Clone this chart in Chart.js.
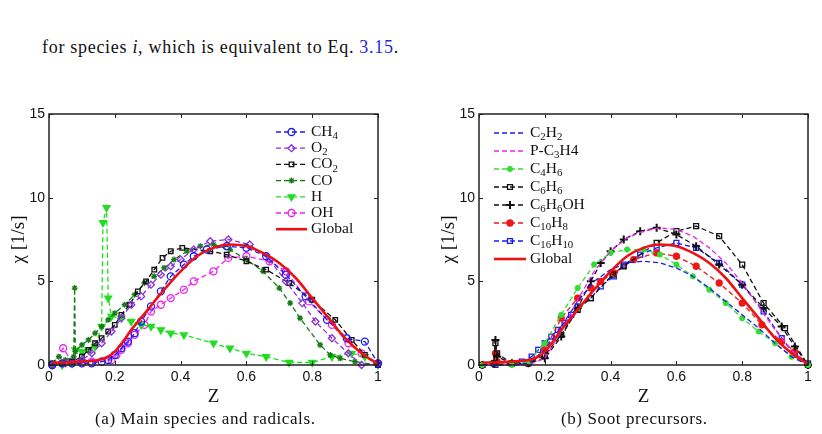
<!DOCTYPE html>
<html>
<head>
<meta charset="utf-8">
<script src="https://cdn.jsdelivr.net/npm/chart.js@4/dist/chart.umd.min.js"></script>
<style>
  html, body { margin: 0; padding: 0; background: #fff; }
  body { width: 822px; height: 434px; position: relative; overflow: hidden; font-family: "Liberation Serif", serif; }
  .intro { position: absolute; left: 42px; top: 37px; font-size: 18px; letter-spacing: 0.7px; color: #111; white-space: nowrap; }
  .intro .ref { color: #2626e0; }
  .cap { position: absolute; top: 409px; font-size: 17px; letter-spacing: 0.6px; color: #111; white-space: nowrap; }
  .box { position: absolute; top: 100px; height: 310px; }
</style>
</head>
<body>
<div class="intro">for species <i>i</i>, which is equivalent to Eq. <span class="ref">3.15</span>.</div>
<div class="box" style="left:0;width:411px"><canvas id="chartA"></canvas></div>
<div class="box" style="left:430px;width:392px"><canvas id="chartB"></canvas></div>
<div class="cap" style="left:95px">(a) Main species and radicals.</div>
<div class="cap" style="left:561px">(b) Soot precursors.</div>
<script>
// tick labels
const zTicks   = [0, 0.2, 0.4, 0.6, 0.8, 1];
const chiTicks = [0, 5, 10, 15];

// global scalar dissipation rate (same in both panels)
const zGlobal   = [0.01, 0.05, 0.1, 0.15, 0.175, 0.2, 0.225, 0.25, 0.275, 0.3, 0.35, 0.4, 0.45, 0.5, 0.55, 0.6, 0.65, 0.7, 0.75, 0.8, 0.85, 0.9, 0.95, 1.0];
const chiGlobal = [0.15, 0.15, 0.2, 0.3, 0.45, 0.8, 1.4, 2.1, 2.7, 3.3, 4.5, 5.6, 6.5, 7.0, 7.2, 7.1, 6.7, 6.1, 5.2, 4.0, 2.8, 1.6, 0.7, 0.05];

// (a) main species and radicals
const zCH4   = [0.01, 0.04, 0.07, 0.1, 0.13, 0.16, 0.18, 0.2, 0.22, 0.24, 0.26, 0.28, 0.31, 0.34, 0.37, 0.41, 0.44, 0.48, 0.54, 0.6, 0.66, 0.72, 0.78, 0.845, 0.905, 0.96, 1.0];
const chiCH4 = [0.0, 0.1, 0.1, 0.1, 0.1, 0.2, 0.3, 0.6, 1.0, 1.4, 1.9, 2.6, 3.5, 4.4, 5.3, 6.0, 6.5, 6.9, 7.1, 7.0, 6.5, 5.4, 4.1, 2.7, 1.6, 1.4, 0.1];

const zO2   = [0.01, 0.05, 0.1, 0.13, 0.16, 0.19, 0.22, 0.25, 0.28, 0.31, 0.34, 0.37, 0.4, 0.44, 0.49, 0.545, 0.61, 0.67, 0.72, 0.77, 0.81, 0.86, 0.91, 0.95, 1.0];
const chiO2 = [0.0, 0.1, 0.3, 0.7, 1.3, 2.0, 2.8, 3.6, 4.1, 4.8, 5.4, 5.9, 6.3, 6.9, 7.4, 7.5, 7.2, 6.3, 5.0, 3.7, 2.6, 1.6, 0.7, 0.0, 0.1];

const zCO2   = [0.01, 0.04, 0.07, 0.1, 0.12, 0.14, 0.16, 0.18, 0.2, 0.22, 0.245, 0.27, 0.295, 0.32, 0.345, 0.37, 0.405, 0.49, 0.54, 0.6, 0.66, 0.73, 0.8, 0.87, 0.92, 0.96, 1.0];
const chiCO2 = [0.1, 0.1, 0.2, 0.5, 0.9, 1.3, 1.6, 2.0, 2.4, 3.0, 3.6, 4.4, 5.0, 5.7, 6.4, 6.8, 7.0, 6.8, 6.6, 6.2, 5.7, 4.9, 3.9, 2.7, 1.5, 0.6, 0.0];

const zCO   = [0.01, 0.03, 0.05, 0.075, 0.078, 0.08, 0.1, 0.12, 0.14, 0.16, 0.18, 0.2, 0.23, 0.26, 0.29, 0.32, 0.35, 0.38, 0.42, 0.46, 0.5, 0.55, 0.6, 0.65, 0.7, 0.733, 0.763, 0.824, 0.855, 0.885, 0.93, 1.0];
const chiCO = [0.1, 0.5, 0.3, 0.5, 4.6, 0.8, 1.2, 1.5, 1.9, 2.3, 2.7, 3.1, 3.6, 4.2, 4.9, 5.3, 5.8, 6.3, 6.8, 7.1, 7.2, 6.9, 6.3, 5.6, 4.6, 3.7, 2.8, 1.2, 0.6, 0.4, 0.2, 0.0];

const zH   = [0.01, 0.04, 0.07, 0.08, 0.1, 0.12, 0.14, 0.16, 0.164, 0.175, 0.18, 0.19, 0.22, 0.25, 0.28, 0.31, 0.34, 0.37, 0.41, 0.5, 0.55, 0.6, 0.66, 0.73, 0.8, 0.86, 0.92, 0.96, 1.0];
const chiH = [0.0, 0.0, 0.1, 0.9, 0.8, 0.9, 1.1, 2.3, 8.5, 9.4, 4.0, 2.9, 2.8, 2.6, 2.4, 2.3, 2.1, 1.9, 1.8, 1.3, 1.0, 0.7, 0.5, 0.15, 0.15, 0.5, 0.7, 0.5, 0.0];

const zOH   = [0.01, 0.043, 0.07, 0.1, 0.13, 0.16, 0.19, 0.205, 0.22, 0.24, 0.26, 0.29, 0.31, 0.34, 0.37, 0.41, 0.44, 0.5, 0.545, 0.6, 0.67, 0.72, 0.79, 0.86, 0.91, 0.95, 1.0];
const chiOH = [0.0, 1.0, 0.2, 0.2, 0.2, 0.2, 0.3, 0.6, 0.9, 1.3, 1.8, 2.4, 3.2, 3.6, 4.0, 4.5, 5.0, 5.6, 6.4, 6.5, 6.2, 5.6, 3.8, 2.4, 1.3, 0.7, 0.1];

// (b) soot precursors
const zGrid = [0.01, 0.1, 0.15, 0.2, 0.25, 0.3, 0.35, 0.4, 0.45, 0.5, 0.55, 0.6, 0.65, 0.7, 0.75, 0.8, 0.85, 0.9, 0.95, 1.0];
const chiC2H2  = [0.0, 0.0, 0.1, 0.9, 2.3, 3.8, 5.0, 5.7, 6.1, 6.2, 6.1, 5.8, 5.3, 4.6, 3.8, 3.0, 2.2, 1.3, 0.5, 0.0];
const chiPC3H4 = [0.0, 0.0, 0.0, 0.4, 2.0, 3.9, 5.6, 6.8, 7.6, 8.0, 8.2, 8.1, 7.7, 7.0, 6.1, 4.9, 3.5, 2.1, 0.9, 0.0];
const chiC4H6  = [0.0, 0.0, 0.2, 1.3, 3.0, 4.6, 6.0, 6.7, 6.9, 6.9, 6.6, 6.0, 5.3, 4.5, 3.7, 2.8, 2.0, 1.3, 0.5, 0.0];

const zC6H6   = [0.01, 0.045, 0.05, 0.055, 0.1, 0.15, 0.2, 0.25, 0.3, 0.34, 0.406, 0.44, 0.54, 0.6, 0.66, 0.73, 0.8, 0.865, 0.93, 1.0];
const chiC6H6 = [0.0, 0.1, 1.3, 0.7, 0.1, 0.1, 0.6, 1.8, 3.3, 4.0, 5.4, 5.9, 7.3, 8.0, 8.3, 7.7, 6.0, 3.7, 2.2, 0.0];

const zC6H6OH   = [0.01, 0.045, 0.05, 0.055, 0.1, 0.15, 0.2, 0.25, 0.3, 0.34, 0.37, 0.4, 0.44, 0.49, 0.54, 0.6, 0.66, 0.73, 0.8, 0.865, 0.92, 0.96, 1.0];
const chiC6H6OH = [0.0, 0.1, 1.5, 0.5, 0.1, 0.1, 0.4, 1.7, 3.4, 5.0, 6.1, 6.8, 7.5, 8.0, 8.2, 7.8, 7.1, 6.0, 4.8, 3.4, 2.3, 1.1, 0.0];

const zC10H8   = [0.01, 0.045, 0.05, 0.055, 0.1, 0.15, 0.2, 0.25, 0.3, 0.34, 0.37, 0.41, 0.47, 0.54, 0.6, 0.66, 0.73, 0.8, 0.86, 0.92, 0.96, 1.0];
const chiC10H8 = [0.0, 0.1, 0.7, 0.2, 0.1, 0.1, 0.9, 2.8, 4.0, 4.6, 5.0, 5.5, 6.3, 6.7, 6.5, 5.9, 4.9, 3.7, 2.4, 1.4, 0.8, 0.0];

const zC16H10   = [0.01, 0.05, 0.1, 0.13, 0.16, 0.18, 0.2, 0.22, 0.24, 0.26, 0.28, 0.3, 0.34, 0.37, 0.41, 0.44, 0.49, 0.54, 0.6, 0.66, 0.73, 0.8, 0.865, 0.92, 0.96, 1.0];
const chiC16H10 = [0.0, 0.0, 0.1, 0.2, 0.5, 0.9, 1.3, 1.7, 2.1, 2.5, 3.0, 3.5, 4.0, 4.7, 5.3, 6.0, 6.6, 7.0, 7.3, 7.0, 6.1, 4.8, 3.2, 1.6, 0.6, 0.1];

const pts = (zs, ys) => zs.map((z, i) => ({ x: z, y: ys[i] }));
const DASH = [5, 3];

function series(label, zs, ys, color, marker, extra) {
  return Object.assign({
    label,
    data: pts(zs, ys),
    showLine: true,
    borderColor: color,
    borderWidth: 1.3,
    borderDash: DASH,
    pointStyle: marker || false,
    pointRadius: marker ? 3.5 : 0,
    pointBorderColor: color,
    pointBackgroundColor: 'rgba(0,0,0,0)',
    pointBorderWidth: 1.3,
    clip: 8,
  }, extra || {});
}

function globalSeries() {
  return {
    label: 'Global',
    data: pts(zGlobal, chiGlobal),
    showLine: true,
    borderColor: '#ee1111',
    borderWidth: 2.6,
    pointRadius: 0,
    cubicInterpolationMode: 'monotone',
    order: -1,
  };
}

// draw label with _{...} subscripts
function drawRich(ctx, s, x, y, size) {
  s.split(/(_\{[^}]*\})/).forEach(p => {
    if (!p) return;
    if (p.startsWith('_{')) {
      const t = p.slice(2, -1);
      ctx.font = (size * 0.7) + 'px "Liberation Serif"';
      ctx.fillText(t, x, y + size * 0.28);
      x += ctx.measureText(t).width;
    } else {
      ctx.font = size + 'px "Liberation Serif"';
      ctx.fillText(p, x, y);
      x += ctx.measureText(p).width;
    }
  });
}

const boxPlugin = {
  id: 'mbox',
  afterDatasetsDraw(chart) {
    const { ctx, chartArea: a, scales: { x, y } } = chart;
    ctx.save();
    ctx.strokeStyle = '#222';
    ctx.lineWidth = 1;
    ctx.beginPath();
    x.ticks.forEach(t => {
      const px = Math.round(x.getPixelForValue(t.value)) + 0.5;
      ctx.moveTo(px, a.bottom); ctx.lineTo(px, a.bottom - 4);
      ctx.moveTo(px, a.top); ctx.lineTo(px, a.top + 4);
    });
    y.ticks.forEach(t => {
      const py = Math.round(y.getPixelForValue(t.value)) + 0.5;
      ctx.moveTo(a.left, py); ctx.lineTo(a.left + 4, py);
      ctx.moveTo(a.right, py); ctx.lineTo(a.right - 4, py);
    });
    ctx.stroke();
    ctx.lineWidth = 1.5;
    ctx.strokeRect(a.left, a.top, a.width, a.height);
    ctx.restore();
  }
};

const legendPlugin = {
  id: 'mlegend',
  afterDraw(chart, args, o) {
    const { ctx, chartArea: a } = chart;
    const x0 = o.right ? a.right - o.dx : a.left + o.dx;
    ctx.save();
    ctx.textBaseline = 'middle';
    chart.data.datasets.forEach((ds, i) => {
      const y = a.top + o.dy + i * o.row;
      ctx.strokeStyle = ds.borderColor;
      ctx.lineWidth = ds.borderWidth;
      ctx.setLineDash(ds.borderDash || []);
      ctx.beginPath();
      ctx.moveTo(x0, y); ctx.lineTo(x0 + o.len, y);
      ctx.stroke();
      ctx.setLineDash([]);
      if (ds.pointStyle) {
        ctx.fillStyle = ds.pointBackgroundColor;
        ctx.strokeStyle = ds.pointBorderColor;
        ctx.lineWidth = ds.pointBorderWidth;
        Chart.helpers.drawPoint(ctx, {
          pointStyle: ds.pointStyle, radius: ds.pointRadius,
          rotation: ds.pointRotation || 0, borderWidth: ds.pointBorderWidth
        }, x0 + o.len / 2, y);
      }
      ctx.fillStyle = '#111';
      drawRich(ctx, o.labels[i], x0 + o.len + 4, y, 15.5);
    });
    ctx.restore();
  }
};

function makeOptions(legendOpts, padRight) {
  return {
    responsive: false,
    animation: false,
    layout: { padding: { left: 0, top: 14, right: padRight, bottom: 0 } },
    plugins: {
      legend: { display: false },
      tooltip: { enabled: false },
      mlegend: legendOpts,
    },
    scales: {
      x: {
        type: 'linear', min: 0, max: 1,
        afterBuildTicks: s => { s.ticks = zTicks.map(v => ({ value: v })); },
        afterFit: s => { s.height = 45; },
        grid: { display: false, drawTicks: false },
        border: { display: false },
        ticks: { color: '#111', padding: 4, font: { family: 'Liberation Sans', size: 14 },
                 callback: v => String(+v.toFixed(1)) },
        title: { display: true, text: 'Z', color: '#111', padding: { top: 0, bottom: 2 },
                 font: { family: 'Liberation Serif', size: 19 } },
      },
      y: {
        type: 'linear', min: 0, max: 15,
        afterBuildTicks: s => { s.ticks = chiTicks.map(v => ({ value: v })); },
        afterFit: s => { s.width = 49; },
        grid: { display: false, drawTicks: false },
        border: { display: false },
        ticks: { color: '#111', padding: 4, font: { family: 'Liberation Sans', size: 14 },
                 callback: v => String(v) },
        title: { display: true, text: 'χ [1/s]', color: '#111', padding: { top: 8, bottom: 0 },
                 font: { family: 'Liberation Serif', size: 19 } },
      },
    },
  };
}

const canvasA = document.getElementById('chartA');
canvasA.width = 411; canvasA.height = 310;
new Chart(canvasA, {
  type: 'scatter',
  data: {
    datasets: [
      series('CH4', zCH4, chiCH4, '#1c1cf0', 'circle'),
      series('O2', zO2, chiO2, '#8a33d6', 'rectRot'),
      series('CO2', zCO2, chiCO2, '#111111', 'rect', { pointRadius: 3.2 }),
      series('CO', zCO, chiCO, '#167a16', 'star', { pointRadius: 3 }),
      series('H', zH, chiH, '#22dd22', 'triangle', { pointRotation: 180, pointBackgroundColor: '#22dd22', pointRadius: 4 }),
      series('OH', zOH, chiOH, '#ee22ee', 'circle'),
      globalSeries(),
    ],
  },
  options: makeOptions({
    right: true, dx: 102, dy: 18, row: 16.2, len: 31,
    labels: ['CH_{4}', 'O_{2}', 'CO_{2}', 'CO', 'H', 'OH', 'Global'],
  }, 33),
  plugins: [boxPlugin, legendPlugin],
});

const canvasB = document.getElementById('chartB');
canvasB.width = 392; canvasB.height = 310;
new Chart(canvasB, {
  type: 'scatter',
  data: {
    datasets: [
      series('C2H2', zGrid, chiC2H2, '#1c1cf0', false),
      series('P-C3H4', zGrid, chiPC3H4, '#ee22ee', false),
      series('C4H6', zGrid, chiC4H6, '#33dd33', 'star', { pointRadius: 3, pointBorderWidth: 2 }),
      series('C6H6', zC6H6, chiC6H6, '#111111', 'rect', { pointRadius: 3.5 }),
      series('C6H6OH', zC6H6OH, chiC6H6OH, '#111111', 'cross', { pointRadius: 4, pointBorderWidth: 2 }),
      series('C10H8', zC10H8, chiC10H8, '#ee1818', 'circle', { pointBackgroundColor: '#ee1818', pointRadius: 3 }),
      series('C16H10', zC16H10, chiC16H10, '#1c1cf0', 'rect', { pointRadius: 3.5 }),
      globalSeries(),
    ],
  },
  options: makeOptions({
    right: false, dx: 15, dy: 19, row: 18, len: 32,
    labels: ['C_{2}H_{2}', 'P-C_{3}H4', 'C_{4}H_{6}', 'C_{6}H_{6}', 'C_{6}H_{6}OH', 'C_{10}H_{8}', 'C_{16}H_{10}', 'Global'],
  }, 14),
  plugins: [boxPlugin, legendPlugin],
});
</script>
</body>
</html>
